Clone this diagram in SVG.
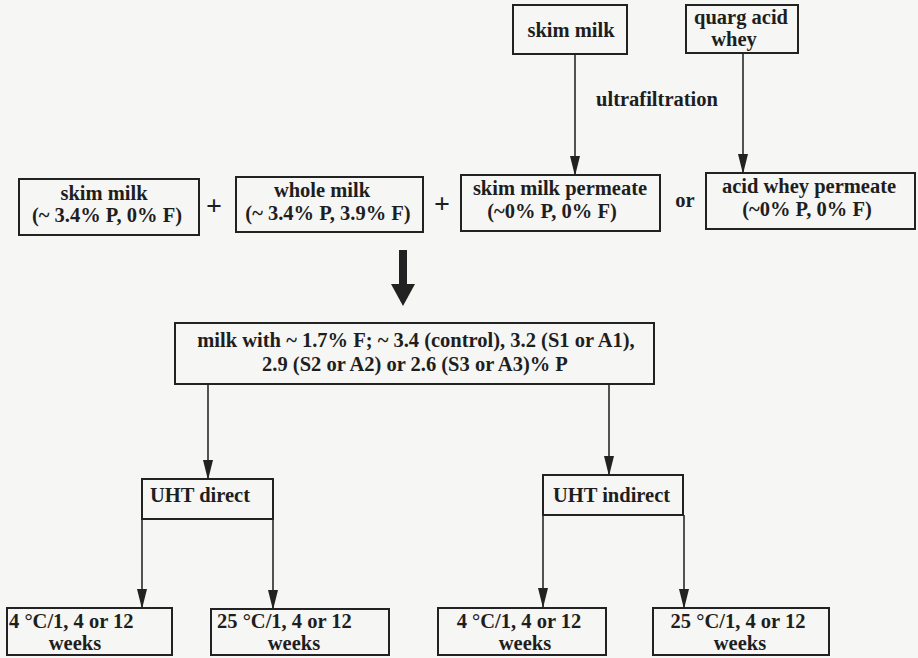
<svg xmlns="http://www.w3.org/2000/svg" width="918" height="658" viewBox="0 0 918 658">
<style>
.box{fill:none;stroke:#222;stroke-width:2}
.ln{fill:none;stroke:#2a2a2a;stroke-width:1.6}
text{font-family:"Liberation Serif","Times New Roman",serif;font-weight:bold;font-size:20.5px;fill:#1e1e1e}
.c{text-anchor:middle}
.big{font-size:28px}
</style>
<defs>
<marker id="a" markerUnits="userSpaceOnUse" markerWidth="20" markerHeight="12" viewBox="0 0 20 12" refX="19" refY="6" orient="auto">
<path d="M0,1 L20,6 L0,11 Z" fill="#222"/>
</marker>
</defs>
<rect width="918" height="658" fill="#f6f6f4"/>

<g id="connectors">
<line class="ln" x1="575" y1="54" x2="575" y2="175" marker-end="url(#a)"/>
<line class="ln" x1="743" y1="53" x2="743" y2="173" marker-end="url(#a)"/>
<rect x="399" y="250" width="8" height="36" fill="#222"/>
<polygon points="391,284 415,284 403,306" fill="#222"/>
<line class="ln" x1="208" y1="384" x2="208" y2="479" marker-end="url(#a)"/>
<line class="ln" x1="609" y1="384" x2="609" y2="475" marker-end="url(#a)"/>
<line class="ln" x1="142" y1="519" x2="142" y2="608" marker-end="url(#a)"/>
<line class="ln" x1="273" y1="519" x2="273" y2="609" marker-end="url(#a)"/>
<line class="ln" x1="543" y1="515" x2="543" y2="607" marker-end="url(#a)"/>
<line class="ln" x1="684" y1="515" x2="684" y2="608" marker-end="url(#a)"/>
<text x="657" y="106" class="c">ultrafiltration</text>
</g>

<g id="skim-milk-top">
<rect class="box" x="513" y="5" width="114" height="49"/>
<text x="571" y="37" class="c">skim milk</text>
</g>
<g id="quarg-acid-whey">
<rect class="box" x="686" y="5" width="112" height="48"/>
<text x="741" y="24" class="c">quarg acid</text>
<text x="734" y="46" class="c">whey</text>
</g>

<g id="skim-milk">
<rect class="box" x="19" y="179" width="180" height="56"/>
<text x="104" y="200" class="c">skim milk</text>
<text x="107" y="222" class="c">(~ 3.4% P, 0% F)</text>
</g>
<g id="plus1"><text x="214" y="215" class="c big">+</text></g>
<g id="whole-milk">
<rect class="box" x="236" y="177" width="187" height="55"/>
<text x="322" y="197" class="c">whole milk</text>
<text x="328" y="220" class="c">(~ 3.4% P, 3.9% F)</text>
</g>
<g id="plus2"><text x="442" y="213" class="c big">+</text></g>
<g id="skim-milk-permeate">
<rect class="box" x="461" y="175" width="199" height="56"/>
<text x="560" y="195" class="c">skim milk permeate</text>
<text x="552" y="218" class="c">(~0% P, 0% F)</text>
</g>
<g id="or"><text x="685" y="207" class="c">or</text></g>
<g id="acid-whey-permeate">
<rect class="box" x="706" y="173" width="209" height="56"/>
<text x="809" y="193" class="c">acid whey permeate</text>
<text x="807" y="216" class="c">(~0% P, 0% F)</text>
</g>

<g id="mixed-milk">
<rect class="box" x="175" y="323" width="479" height="61"/>
<text x="416" y="347" class="c">milk with ~ 1.7% F; ~ 3.4 (control), 3.2 (S1 or A1),</text>
<text x="415" y="371" class="c">2.9 (S2 or A2) or 2.6 (S3 or A3)% P</text>
</g>

<g id="uht-direct">
<rect class="box" x="142" y="479" width="131" height="40"/>
<text x="150" y="502">UHT direct</text>
</g>
<g id="uht-indirect">
<rect class="box" x="543" y="475" width="140" height="40"/>
<text x="553" y="502">UHT indirect</text>
</g>

<g id="d-4c">
<rect class="box" x="7" y="608" width="165" height="47"/>
<text x="9" y="628">4 °C/1, 4 or 12</text>
<text x="75" y="650" class="c">weeks</text>
</g>
<g id="d-25c">
<rect class="box" x="211" y="609" width="178" height="46"/>
<text x="217" y="628">25 °C/1, 4 or 12</text>
<text x="294" y="650" class="c">weeks</text>
</g>
<g id="i-4c">
<rect class="box" x="438" y="608" width="168" height="47"/>
<text x="519" y="628" class="c">4 °C/1, 4 or 12</text>
<text x="525" y="650" class="c">weeks</text>
</g>
<g id="i-25c">
<rect class="box" x="653" y="608" width="176" height="47"/>
<text x="738" y="628" class="c">25 °C/1, 4 or 12</text>
<text x="740" y="650" class="c">weeks</text>
</g>
</svg>
